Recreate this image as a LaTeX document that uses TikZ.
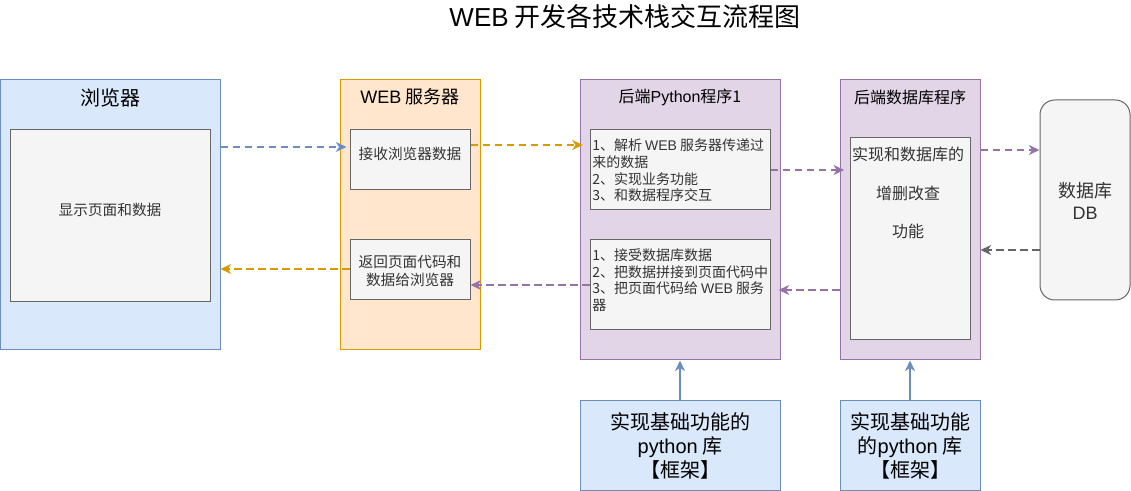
\documentclass[tikz,border=0pt]{standalone}
\usepackage{fontspec}
\setmainfont{Noto Sans CJK SC}
\newfontfamily\lat{Liberation Sans}
\usetikzlibrary{arrows.meta,fit}
\definecolor{bfill}{HTML}{DAE8FC}
\definecolor{bline}{HTML}{6C8EBF}
\definecolor{ofill}{HTML}{FFE6CC}
\definecolor{oline}{HTML}{D79B00}
\definecolor{pfill}{HTML}{E1D5E7}
\definecolor{pline}{HTML}{9673A6}
\definecolor{gfill}{HTML}{F5F5F5}
\definecolor{gline}{HTML}{666666}
\definecolor{gtext}{HTML}{333333}
\tikzset{
  box/.style={inner sep=0pt, line width=0.75pt},
  bluebox/.style={box, draw=bline, fill=bfill},
  orangebox/.style={box, draw=oline, fill=ofill},
  purplebox/.style={box, draw=pline, fill=pfill},
  graybox/.style={box, draw=gline, fill=gfill, text=gtext},
  lbl/.style={inner sep=0pt, align=center},
  flow/.style={line width=1.5pt, dash pattern=on 5.5pt off 3.5pt,
    -{Stealth[length=8pt,width=7.5pt,inset=2.5pt]}},
  solidflow/.style={line width=1.5pt, -{Stealth[length=8pt,width=7.5pt,inset=2.5pt]}},
}
\begin{document}
\begin{tikzpicture}[x=0.75pt,y=-0.75pt]
\useasboundingbox (0,0) rectangle (1131,491);
% title
\node[lbl, font=\fontsize{19.5pt}{23pt}\selectfont] (title) at (625,17) {{\lat WEB} 开发各技术栈交互流程图};

% containers
\node[bluebox, fit={(0,80)(220,350)}] (browser) {};
\node[lbl, font=\fontsize{15pt}{18pt}\selectfont] (browserlbl) at (110,98) {浏览器};
\node[orangebox, fit={(340,80)(480,350)}] (websrv) {};
\node[lbl, font=\fontsize{13.5pt}{16pt}\selectfont] (websrvlbl) at (410,97) {{\lat WEB} 服务器};
\node[purplebox, fit={(580,80)(780,360)}] (py) {};
\node[lbl, font=\fontsize{12pt}{14pt}\selectfont] (pylbl) at (680,97) {后端{\lat Python}程序1};
\node[purplebox, fit={(840,80)(980,360)}] (dbp) {};
\node[lbl, font=\fontsize{12pt}{14pt}\selectfont] (dbplbl) at (910,97) {后端数据库程序};

% inner boxes
\node[graybox, fit={(10,130)(210,302)}, font=\fontsize{11pt}{13pt}\selectfont] (show) {显示页面和数据};
\node[graybox, fit={(350,130)(470,190)}, font=\fontsize{11pt}{13pt}\selectfont] (recv) {接收浏览器数据};
\node[graybox, fit={(350,240)(470,300)}] (ret) {};
\node[lbl, text=gtext, font=\fontsize{11pt}{13.5pt}\selectfont] (rettxt) at (410,271) {返回页面代码和\\数据给浏览器};
\node[graybox, fit={(590,130)(770,210)}] (py1) {};
\node[lbl, text=gtext, align=left, anchor=west, font=\fontsize{10.5pt}{12.5pt}\selectfont] (py1txt) at (592,170.5)
  {1、解析 {\lat WEB} 服务器传递过\\来的数据\\2、实现业务功能\\3、和数据程序交互};
\node[graybox, fit={(590,240)(770,330)}] (py2) {};
\node[lbl, text=gtext, align=left, anchor=west, font=\fontsize{10.5pt}{12.5pt}\selectfont] (py2txt) at (592,280)
  {1、接受数据库数据\\2、把数据拼接到页面代码中\\3、把页面代码给 {\lat WEB} 服务\\器};
\node[graybox, fit={(850,138)(970,340)}] (crud) {};
\node[lbl, text=gtext, font=\fontsize{12pt}{29pt}\selectfont] (crudtxt) at (908,193) {实现和数据库的\\增删改查\\功能};

% database
\node[graybox, rounded corners=11pt, fit={(1040,100)(1130,300)}] (db) {};
\node[lbl, text=gtext, font=\fontsize{13.5pt}{16.5pt}\selectfont] (dbtxt) at (1085,201) {数据库\\{\lat DB}};

% bottom library boxes
\node[bluebox, fit={(580,400)(780,490)}] (lib1) {};
\node[lbl, font=\fontsize{15pt}{18pt}\selectfont] (lib1txt) at (680,446) {实现基础功能的\\{\lat python} 库\\【框架】};
\node[bluebox, fit={(840,400)(980,490)}] (lib2) {};
\node[lbl, font=\fontsize{15pt}{18pt}\selectfont] (lib2txt) at (910,446) {实现基础功能\\的{\lat python} 库\\【框架】};

% connectors
\draw[flow, bline, shorten >=2.25pt] (browser.east |- 0,147) -- (recv.west |- 0,147);
\draw[flow, oline, shorten >=5pt] (recv.east |- 0,145) -- (py1.west |- 0,145);
\draw[flow, oline] (ret.west |- 0,269) -- (browser.east |- 0,269);
\draw[flow, pline] (py2.west |- 0,285) -- (ret.east |- 0,285);
\draw[flow, pline, shorten >=4pt] (py1.east |- 0,170) -- (crud.west |- 0,170);
\draw[flow, pline] (dbp.east |- 0,150) -- (db.west |- 0,150);
\draw[flow, gline] (db.west |- 0,250) -- (dbp.east |- 0,250);
\draw[flow, pline, shorten >=6pt] (dbp.west |- 0,290) -- (py2.east |- 0,290);
\draw[solidflow, bline] (lib1.north) -- (py.south -| lib1.north);
\draw[solidflow, bline] (lib2.north) -- (dbp.south -| lib2.north);
\end{tikzpicture}
\end{document}
